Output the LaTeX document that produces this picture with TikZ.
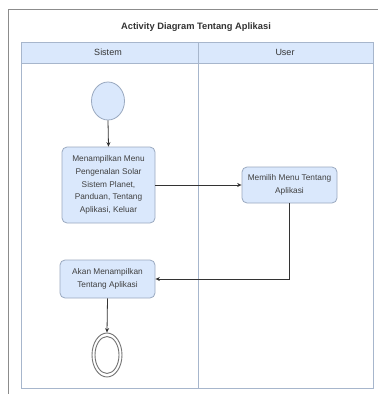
\documentclass[tikz,border=0pt]{standalone}
\usepackage{fontspec}
\setmainfont{Liberation Sans}
\usetikzlibrary{shapes.geometric,arrows.meta}
\definecolor{lanefill}{HTML}{DAE8FC}
\definecolor{laneline}{HTML}{A7B6CC}
\definecolor{boxline}{HTML}{9AA9C0}
\definecolor{frameline}{HTML}{8C8C8C}
\tikzset{
  actbox/.style={draw=boxline, fill=lanefill, rounded corners=5pt, line width=0.8pt,
    align=center, inner sep=2pt, font=\fontsize{8.3}{12.6}\selectfont, text=black!75},
  startnode/.style={ellipse, draw=boxline, fill=lanefill, line width=0.8pt, inner sep=0pt},
  endring/.style={ellipse, draw=black!55, line width=0.9pt, inner sep=0pt},
  flow/.style={draw=black!80, line width=0.8pt, -{Stealth[length=4.5pt,width=4pt]}},
  hdr/.style={font=\fontsize{9}{11}\selectfont, text=black!80},
}
\begin{document}
\begin{tikzpicture}[x=1pt,y=-1pt]
\useasboundingbox (0,0) rectangle (378,394);
\fill[white] (0,0) rectangle (378,394);
% outer frame
\draw[frameline, line width=1pt] (8,394) -- (8,9) -- (378,9);
% title
\node[font=\bfseries\fontsize{9.3}{11}\selectfont, text=black!80] (title) at (196,27) {Activity Diagram Tentang Aplikasi};
% pool
\fill[lanefill] (21,42) rectangle (373,63);
\draw[laneline, line width=0.8pt] (21,42) rectangle (373,388);
\draw[laneline, line width=0.8pt] (21,63) -- (373,63);
\draw[laneline, line width=0.8pt] (198,42) -- (198,388);
\node[hdr] (hsistem) at (108,52.5) {Sistem};
\node[hdr] (huser) at (285,52.5) {User};
% nodes
\node[startnode, minimum width=33pt, minimum height=38pt] (start) at (108,101) {};
\node[actbox, minimum width=93pt, minimum height=76pt] (b1) at (108.5,185)
  {Menampilkan Menu\\Pengenalan Solar\\Sistem Planet,\\Panduan, Tentang\\Aplikasi, Keluar};
\node[actbox, minimum width=95pt, minimum height=36pt] (b2) at (289.5,185)
  {Memilih Menu Tentang\\Aplikasi};
\node[actbox, minimum width=95pt, minimum height=38pt] (b3) at (107.5,279)
  {Akan Menampilkan\\Tentang Aplikasi};
\node[endring, minimum width=30pt, minimum height=44pt] (endo) at (107,355) {};
\node[endring, minimum width=24pt, minimum height=37pt] (endi) at (107,355) {};
% connectors
\draw[flow] (start.south) -- (b1.north);
\draw[flow] (b1.east) -- (b2.west);
\draw[flow] (b2.south) |- (b3.east);
\draw[flow] (b3.south) -- (endo.north);
\end{tikzpicture}
\end{document}
